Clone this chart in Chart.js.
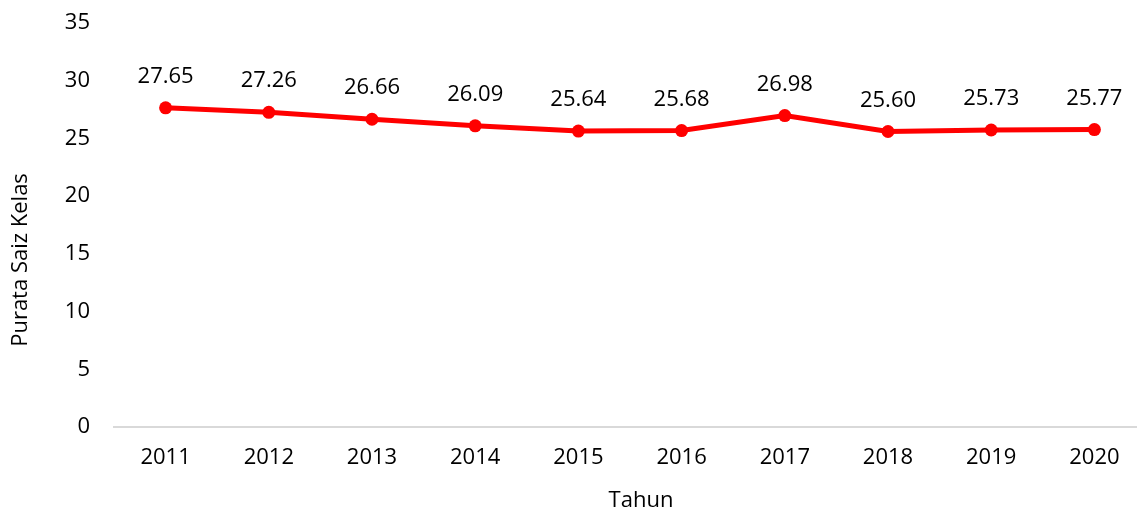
<!DOCTYPE html>
<html lang="ms">
<head>
    <meta charset="UTF-8">
    <title>Purata Saiz Kelas</title>
    <script src="https://cdn.jsdelivr.net/npm/chart.js"></script>
    <style>
        html, body {
            margin: 0;
            padding: 0;
            background: #ffffff;
        }
        .chart-box {
            width: 1137px;
            height: 512px;
            overflow: hidden;
        }
    </style>
</head>
<body>
    <div class="chart-box">
        <!-- kanvas sedikit lebih lebar: paksi X bersambung melepasi tepi kanan -->
        <canvas id="myChart" width="1146" height="512"></canvas>
    </div>

    <script>
        // data
        var years = ['2011', '2012', '2013', '2014', '2015', '2016', '2017', '2018', '2019', '2020'];
        var classSize = [27.65, 27.26, 26.66, 26.09, 25.64, 25.68, 26.98, 25.60, 25.73, 25.77];

        var xTitle = 'Tahun';
        var yTitle = 'Purata Saiz Kelas';

        var fontName = "'Open Sans', 'Noto Sans', sans-serif";
        var fontSize = 22;

        // tulis nilai di atas setiap titik + tajuk paksi
        var valueLabels = {
            id: 'valueLabels',
            afterDatasetsDraw: function (chart) {
                var ctx = chart.ctx;
                var meta = chart.getDatasetMeta(0);
                ctx.save();
                ctx.font = fontSize + 'px ' + fontName;
                ctx.fillStyle = '#000000';
                ctx.textAlign = 'center';
                ctx.textBaseline = 'alphabetic';
                meta.data.forEach(function (pt, i) {
                    ctx.fillText(classSize[i].toFixed(2), pt.x, pt.y - 25);
                });

                ctx.textBaseline = 'middle';
                ctx.fillText(xTitle, 641, 501);
                ctx.translate(21, 260);
                ctx.rotate(-Math.PI / 2);
                ctx.fillText(yTitle, 0, 0);
                ctx.restore();
            }
        };

        var ctx = document.getElementById('myChart').getContext('2d');
        var myChart = new Chart(ctx, {
            type: 'line',
            data: {
                labels: years,
                datasets: [{
                    label: 'Purata Saiz Kelas',
                    data: classSize,
                    borderColor: '#ff0000',
                    backgroundColor: '#ff0000',
                    borderWidth: 5,
                    pointRadius: 6.5,
                    pointBackgroundColor: '#ff0000',
                    pointBorderWidth: 0,
                    tension: 0,
                    fill: false
                }]
            },
            options: {
                responsive: false,
                animation: false,
                layout: {
                    autoPadding: false,
                    padding: { left: 9, right: 0, top: 23, bottom: 0 }
                },
                plugins: {
                    legend: { display: false },
                    tooltip: { enabled: false }
                },
                scales: {
                    x: {
                        offset: true,
                        grid: { display: false, drawTicks: false },
                        border: { display: true, color: '#d9d9d9', width: 2 },
                        afterFit: function (scale) {
                            scale.paddingLeft = 0;
                            scale.paddingRight = 0;
                            scale.height = 85;
                        },
                        ticks: {
                            padding: 20,
                            color: '#000000',
                            font: { family: fontName, size: fontSize, lineHeight: 1 }
                        }
                    },
                    y: {
                        min: 0,
                        max: 35,
                        afterFit: function (scale) {
                            scale.width = 105;
                            scale.paddingTop = 0;
                            scale.paddingBottom = 0;
                        },
                        ticks: {
                            stepSize: 5,
                            padding: 24,
                            color: '#000000',
                            font: { family: fontName, size: fontSize, lineHeight: 1 }
                        },
                        grid: { display: false, drawTicks: false },
                        border: { display: false }
                    }
                }
            },
            plugins: [valueLabels]
        });
    </script>
</body>
</html>
